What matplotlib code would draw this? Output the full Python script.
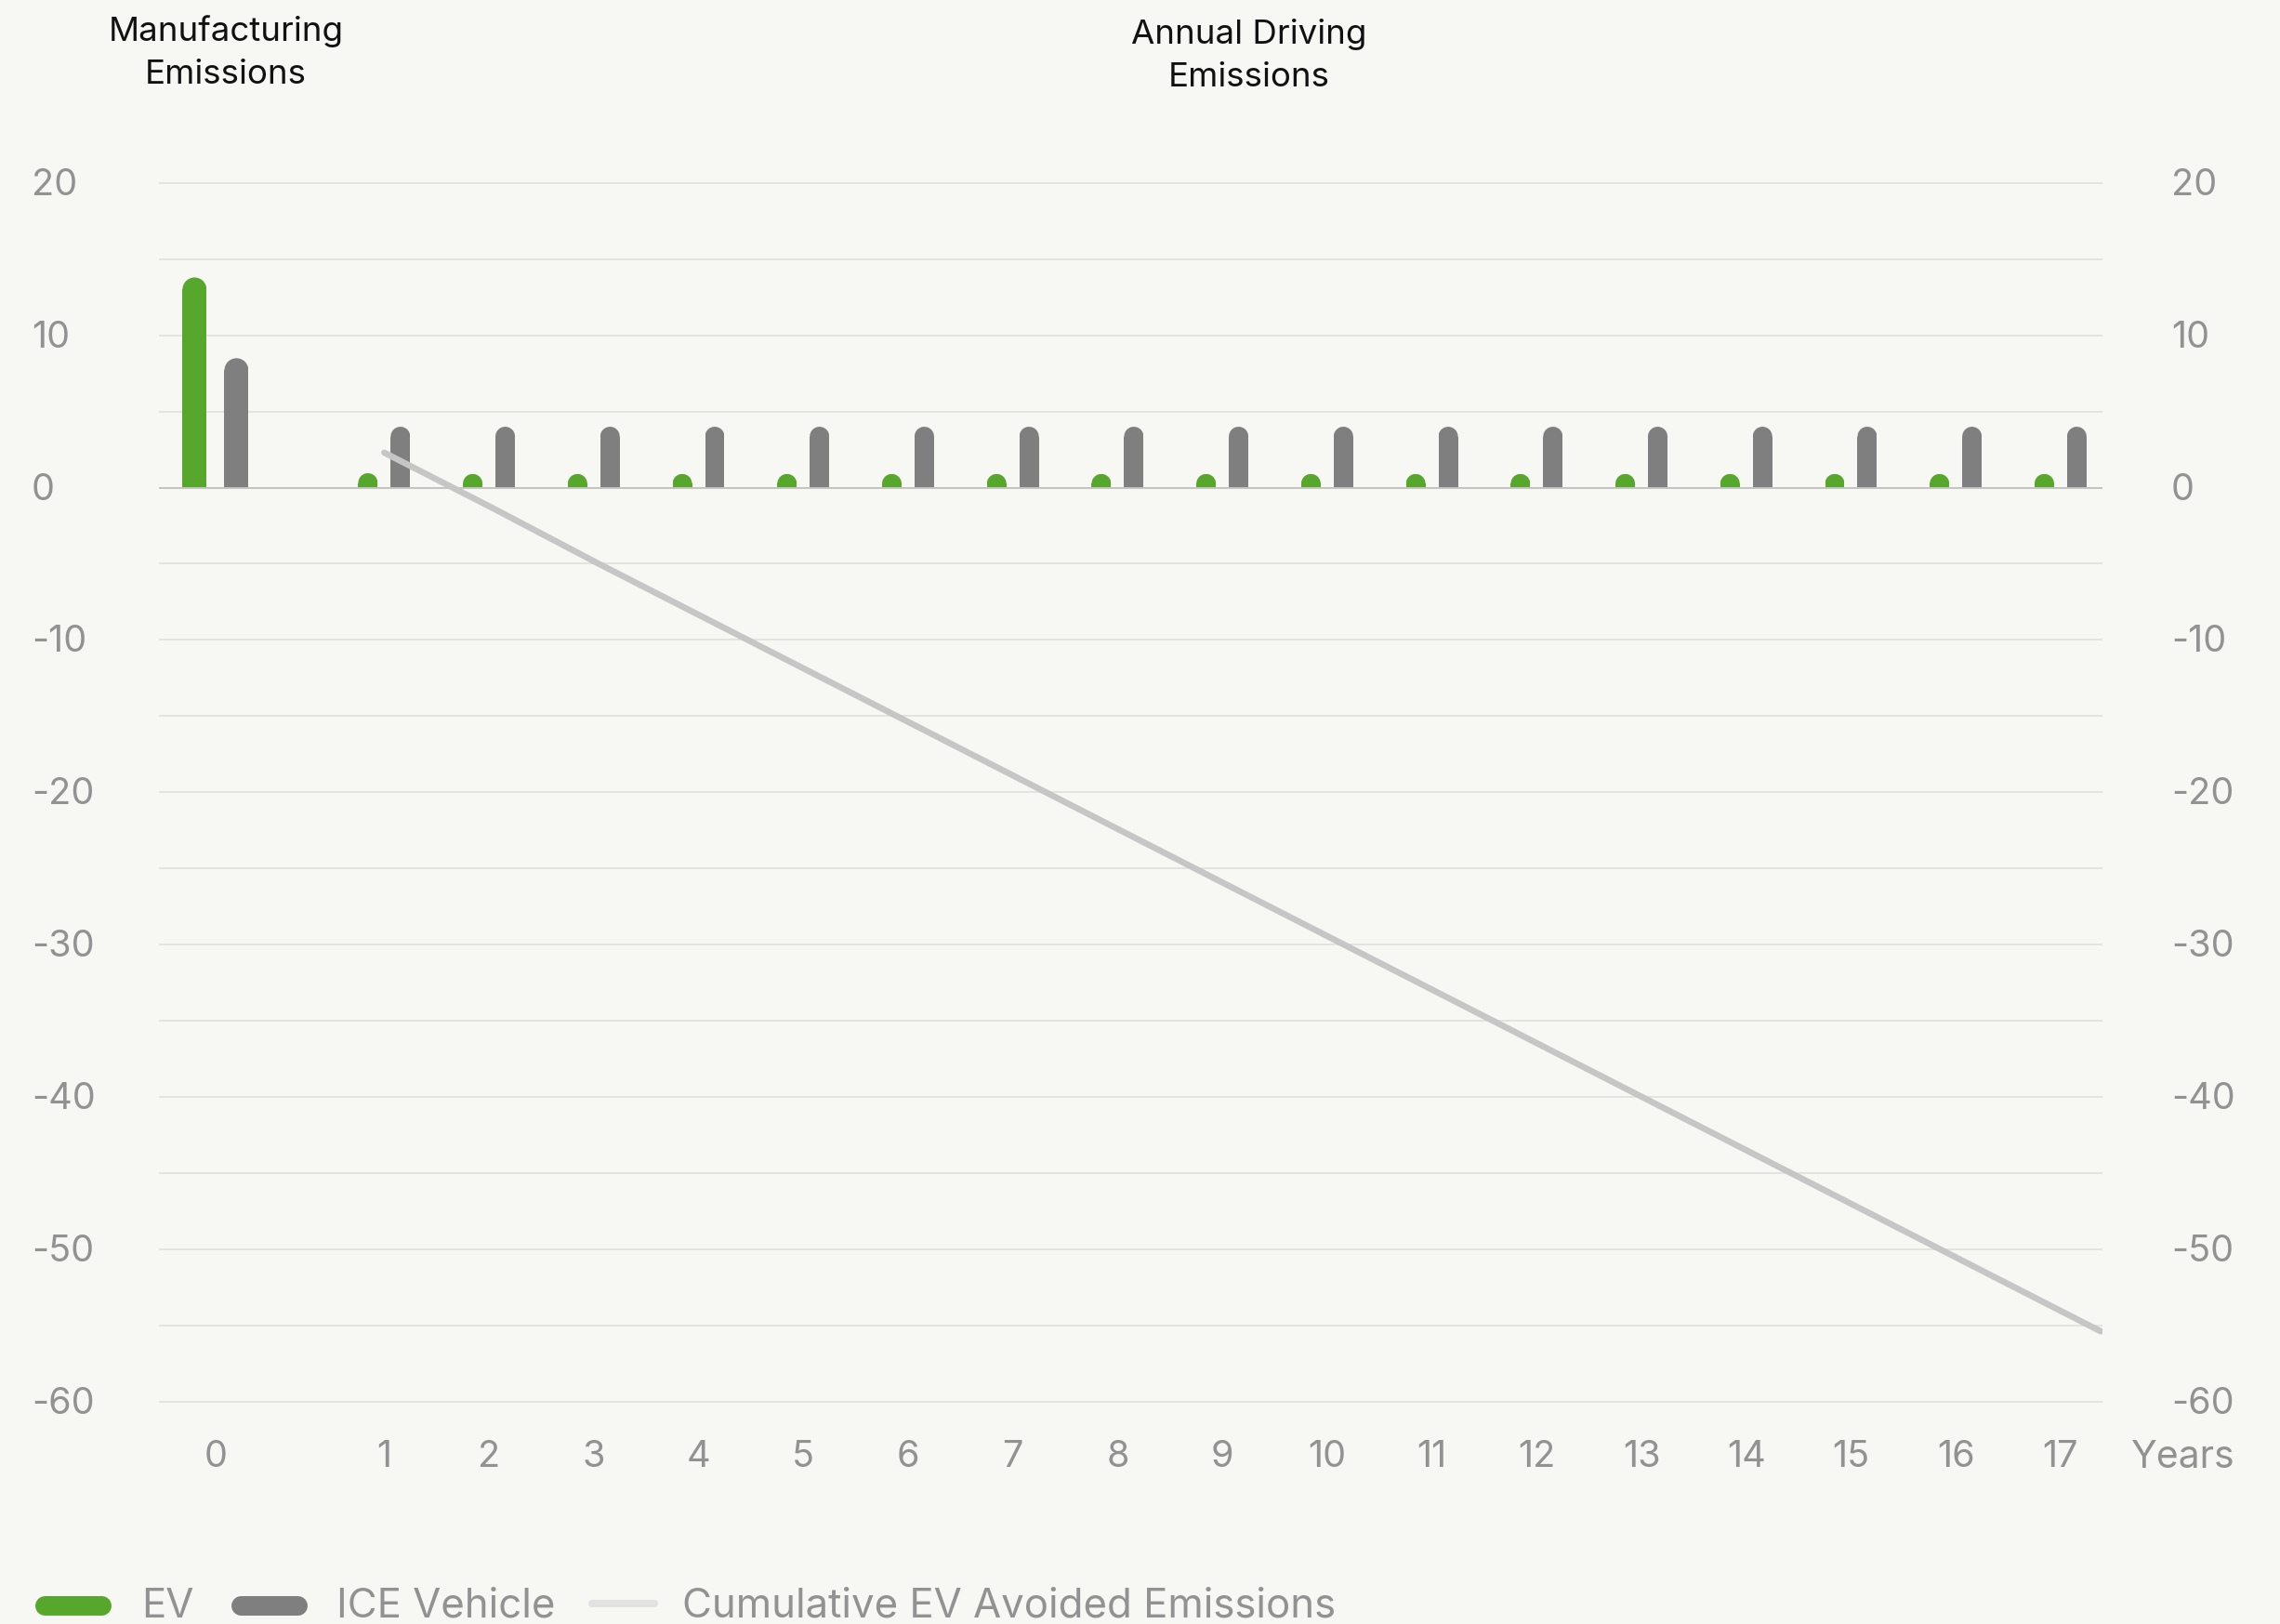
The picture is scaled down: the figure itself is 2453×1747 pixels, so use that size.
import matplotlib
matplotlib.use("Agg")
import matplotlib.pyplot as plt
import numpy as np
from matplotlib import patches, transforms
from matplotlib.lines import Line2D

# colours
BG = "#f7f7f3"
GREEN = "#57a72d"
GREY = "#7f7f7f"
LINE = "#c6c6c6"
GRID = "#dededa"
ZERO = "#c4c4c2"
TEXT = "#929292"

# data (tonnes CO2e)
years = [0, 1, 2, 3, 4, 5, 6, 7, 8, 9, 10, 11, 12, 13, 14, 15, 16, 17]
ev_emissions = [13.8, 0.95, 0.9, 0.9, 0.9, 0.9, 0.9, 0.9, 0.9,
                0.9, 0.9, 0.9, 0.9, 0.9, 0.9, 0.9, 0.9, 0.9]
ice_emissions = [8.5, 4.0, 4.0, 4.0, 4.0, 4.0, 4.0, 4.0, 4.0,
                 4.0, 4.0, 4.0, 4.0, 4.0, 4.0, 4.0, 4.0, 4.0]
line_years = [1, 2, 3, 4, 5, 6, 7, 8, 9, 10, 11, 12, 13, 14, 15, 16, 17]
avoided = [2.3, -1.3, -5.0, -8.6, -12.2, -15.8, -19.4, -23.0, -26.6,
           -30.2, -33.8, -37.4, -41.0, -44.6, -48.2, -51.8, -55.4]
y_ticks = [20, 10, 0, -10, -20, -30, -40, -50, -60]

plt.rcParams['font.family'] = ['Inter', 'DejaVu Sans']

W, H = 2453, 1747
fig = plt.figure(figsize=(W / 100, H / 100), dpi=100, facecolor=BG)

# axes box in pixels
ax_l, ax_r = 171, 2262
ax_t, ax_b = 192.0, 1512.5
XLIM = (-1.15, 17.40)
YLIM = (-60.3, 20.3)
ax = fig.add_axes([ax_l / W, 1 - ax_b / H, (ax_r - ax_l) / W, (ax_b - ax_t) / H])
ax.set_xlim(*XLIM)
ax.set_ylim(*YLIM)
ax.axis("off")

xpx = (ax_r - ax_l) / (XLIM[1] - XLIM[0])
ypx = (ax_b - ax_t) / (YLIM[1] - YLIM[0])

# gridlines every 5
for v in range(-60, 21, 5):
    ax.axhline(v, color=GRID, lw=1.1, zorder=0)
ax.axhline(0, color=ZERO, lw=1.4, zorder=3)

# year 0 sits a bit further left than the annual years
pos = np.array(years, dtype=float)
pos[0] = -0.61


def rounded_bars(x, heights, width, color):
    """Bars with a half-round top."""
    r_y = width / 2 * xpx / ypx
    body = [max(h - r_y, 0) for h in heights]
    ax.bar(x, body, width, color=color, linewidth=0, zorder=2)
    for xi, h in zip(x, heights):
        cap = patches.Ellipse((xi, h - r_y), width, 2 * r_y, facecolor=color,
                              linewidth=0, zorder=2)
        ax.add_patch(cap)
        clip = patches.Rectangle((xi - width / 2, 0), width, h, transform=ax.transData)
        cap.set_clip_path(clip)


# manufacturing (year 0)
rounded_bars([pos[0] - 0.2], ev_emissions[:1], 0.23, GREEN)
rounded_bars([pos[0] + 0.2], ice_emissions[:1], 0.23, GREY)
# annual driving
rounded_bars(pos[1:] - 0.155, ev_emissions[1:], 0.186, GREEN)
rounded_bars(pos[1:] + 0.155, ice_emissions[1:], 0.186, GREY)

# cumulative line runs to the right edge of the plot
stretch = 1.024
lx = 1 + (np.array(line_years) - 1) * stretch
ax.plot(lx, avoided, color=LINE, lw=4.8, solid_capstyle="round", zorder=4)

# y labels on both sides
ytrans = transforms.blended_transform_factory(fig.transFigure, ax.transData)
yoff = transforms.ScaledTranslation(0, -13 / 100, fig.dpi_scale_trans)
for v in y_ticks:
    for xl in (34, 2336):
        fig.text(xl / W, v, str(v), transform=ytrans + yoff, ha="left",
                 va="baseline", fontsize=28.5, color=TEXT)

# x labels
xtrans = transforms.blended_transform_factory(ax.transData, fig.transFigure)
for p, yr in zip(pos, years):
    ax.text(p, 1 - 1578 / H, str(yr), transform=xtrans, ha="center",
            va="baseline", fontsize=28.5, color=TEXT)
fig.text(2293 / W, 1 - 1579 / H, "Years", ha="left", va="baseline",
         fontsize=29.5, color=TEXT)

# headings
for txt, xc, yb in [("Manufacturing", 243, 44), ("Emissions", 243, 90),
                    ("Annual Driving", 1344, 47), ("Emissions", 1344, 93)]:
    fig.text(xc / W, 1 - yb / H, txt, ha="center", va="baseline",
             fontsize=26.4, color="#111111")

# legend
fy = 1 - 1727 / H
fig.add_artist(Line2D([47.5 / W, 108.5 / W], [fy, fy], lw=15.1, color=GREEN,
                      solid_capstyle="round", transform=fig.transFigure))
fig.add_artist(Line2D([258.5 / W, 319.5 / W], [fy, fy], lw=15.1, color=GREY,
                      solid_capstyle="round", transform=fig.transFigure))
fy2 = 1 - 1725 / H
fig.add_artist(Line2D([637 / W, 704 / W], [fy2, fy2], lw=5.8, color="#e2e2e2",
                      solid_capstyle="round", transform=fig.transFigure))
for txt, xl in [("EV", 152), ("ICE Vehicle", 362),
                ("Cumulative EV Avoided Emissions", 734)]:
    fig.text(xl / W, 1 - 1740 / H, txt, ha="left", va="baseline",
             fontsize=31.5, color=TEXT)

fig.savefig("out.png", dpi=100, facecolor=BG)
